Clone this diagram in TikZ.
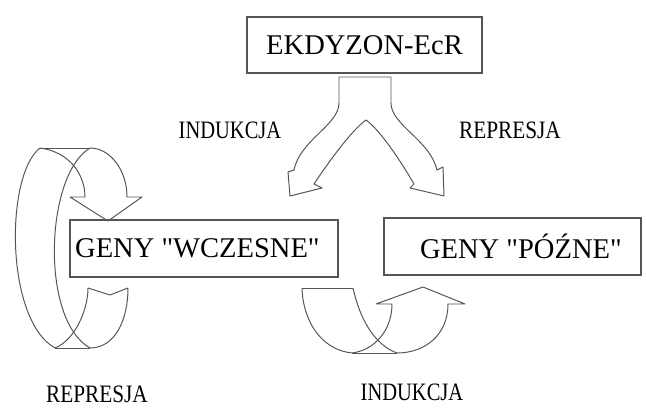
\documentclass[tikz,border=0pt]{standalone}
\usepackage{fontspec}
\setmainfont{Liberation Serif}[Ligatures=TeXOff]
\definecolor{inkgray}{RGB}{85,85,85}
\tikzstyle{genbox} = [draw=inkgray, line width=0.8pt, inner sep=0pt, font=\fontsize{20.3}{24}\selectfont]
\tikzstyle{tag} = [inner sep=0pt, font=\fontsize{17.8}{20}\selectfont]
\tikzstyle{band} = [draw=inkgray, line width=0.7pt, line join=round]

\begin{document}
\begin{tikzpicture}[x=0.025cm, y=-0.025cm]
        \useasboundingbox (0,0) rectangle (646,411);
        \node[genbox, minimum width=5.875cm, minimum height=1.4cm] at (364.5,45) (ecr) {EKDYZON-EcR};
        \node[genbox, minimum width=6.7cm, minimum height=1.425cm] at (204,248.5) (early) {GENY "WCZESNE"\hspace*{0.33cm}};
        \node[genbox, minimum width=6.425cm, minimum height=1.425cm] at (512.5,246.5) (late) {\hspace*{0.42cm}GENY "PÓŹNE"};

        \node[tag] at (230,130) (indtop) {\scalebox{0.82}[1]{INDUKCJA}};
        \node[tag] at (510,130) (reptop) {\scalebox{0.85}[1]{REPRESJA}};
        \node[tag] at (97,394) (repbot) {\scalebox{0.85}[1]{REPRESJA}};
        \node[tag] at (412,392) (indbot) {\scalebox{0.82}[1]{INDUKCJA}};

        % split arrow below the hormone box
        \draw[band] (339,77) -- (391,77) -- (391,103)
            .. controls (391,125) and (430,140) .. (437,170) -- (443,167) -- (444,196) -- (410,188) -- (414,184)
            .. controls (400,160) and (380,130) .. (366,120)
            .. controls (352,130) and (330,160) .. (314,184) -- (322,188) -- (290,196) -- (288,172) -- (294,170)
            .. controls (300,140) and (339,125) .. (339,103) -- cycle;

        % loop on the left
        \draw[band] (40,148) -- (90,148);
        \draw[band] (55,348) -- (90,348);
        \draw[band] (40,148) .. controls (5,175) and (5,320) .. (55,348);
        \draw[band] (90,148) .. controls (45,175) and (40,320) .. (90,348);
        \draw[band] (40,148) .. controls (70,152) and (85,175) .. (85,197) -- (70,197) -- (108,221)
            -- (142,197) -- (127,197) .. controls (127,170) and (110,148) .. (90,148);
        \draw[band] (55,348) .. controls (75,340) and (88,310) .. (88,288) -- (110,295) -- (128,288)
            .. controls (128,320) and (115,348) .. (90,348);

        % loop in the middle
        \draw[band] (302,288) -- (353,288);
        \draw[band] (352,353) -- (397,353);
        \draw[band] (302,288) .. controls (303,322) and (322,350) .. (352,353);
        \draw[band] (353,288) .. controls (360,320) and (375,345) .. (397,353);
        \draw[band] (352,353) .. controls (375,350) and (392,330) .. (392,304) -- (376,304) -- (423,287)
            -- (465,304) -- (448,304) .. controls (448,335) and (425,353) .. (397,353);
\end{tikzpicture}
\end{document}
